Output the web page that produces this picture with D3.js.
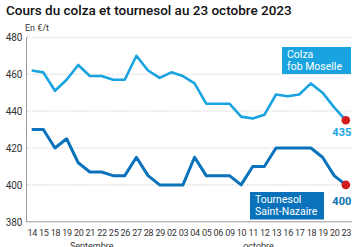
<!DOCTYPE html>
<html>
<head>
<meta charset="utf-8">
<script src="https://cdn.jsdelivr.net/npm/d3@7"></script>
<style>
  body { margin: 0; background: #fff; }
  svg { display: block; font-family: Roboto, "Noto Sans", sans-serif; }
</style>
</head>
<body>
<div id="chart"></div>
<script>
// dates (jour) – septembre puis octobre
const days = ["14","15","18","19","20","21","22","25","26","27","28","29",
  "02","03","04","05","06","09","10","11","12","13","16","17","18","19","20","23"];
const colza = [462,461,451,457,465,459,459,457,457,470,462,458,
  461,459,455,444,444,444,437,436,438,449,448,449,455,450,442,435];
const tournesol = [430,430,420,425,412,407,407,405,405,415,405,400,
  400,400,415,405,405,405,400,410,410,420,420,420,420,415,405,400];
const yTicks = [380,400,420,440,460,480];
const months = [{ label: "Septembre", from: 0, to: 11, shift: -4 }, { label: "octobre", from: 12, to: 27, shift: 0 }];

const W = 358, H = 247;
const colzaColor = "#19a3e0", tournColor = "#0a72ba", dotColor = "#d01c1f";

const svg = d3.select("#chart").append("svg").attr("width", W).attr("height", H);

const x = d3.scalePoint().domain(d3.range(days.length)).range([31.7, 345.8]);
const y = d3.scaleLinear().domain([380, 480]).range([221.8, 37.3]);

svg.append("text")
  .attr("x", 6).attr("y", 15)
  .attr("font-size", 13.5).attr("font-weight", 500).attr("fill", "#111")
  .text("Cours du colza et tournesol au 23 octobre 2023");

svg.append("text")
  .attr("x", 25).attr("y", 31)
  .attr("font-size", 9).attr("fill", "#333")
  .text("En €/t");

// grid
svg.append("g").selectAll("line")
  .data(yTicks.filter(d => d > 380))
  .join("line")
  .attr("x1", 27).attr("x2", 352)
  .attr("y1", d => y(d)).attr("y2", d => y(d))
  .attr("stroke", "#b5b5b5").attr("stroke-width", 0.8)
  .attr("stroke-dasharray", "1,1.5");

// axes
const yAxis = svg.append("g").attr("transform", "translate(26.5,0)")
  .call(d3.axisLeft(y).tickValues(yTicks).tickSize(0).tickPadding(4));
yAxis.select(".domain").attr("stroke", "#999").attr("d", `M0,${y(480)}V${y(380)}`);
yAxis.selectAll("text").attr("font-size", 10).attr("fill", "#333").attr("font-family", "Roboto");

const xAxis = svg.append("g").attr("transform", `translate(0,${y(380)})`)
  .call(d3.axisBottom(x).tickFormat(i => days[i]).tickSize(0).tickPadding(8));
xAxis.select(".domain").attr("stroke", "#999").attr("d", "M26,0H352");
xAxis.selectAll("text").attr("font-size", 9).attr("fill", "#333")
  .attr("font-family", "Roboto").attr("letter-spacing", -0.3);

svg.append("g").selectAll("text")
  .data(months).join("text")
  .attr("x", d => (x(d.from) + x(d.to)) / 2 + d.shift)
  .attr("y", 248.5)
  .attr("text-anchor", "middle")
  .attr("font-size", 9).attr("fill", "#333")
  .text(d => d.label);

const line = d3.line().x((d, i) => x(i)).y(d => y(d));

svg.append("path").datum(colza)
  .attr("fill", "none").attr("stroke", colzaColor).attr("stroke-width", 2.6)
  .attr("stroke-linejoin", "round").attr("d", line);
svg.append("path").datum(tournesol)
  .attr("fill", "none").attr("stroke", tournColor).attr("stroke-width", 3)
  .attr("stroke-linejoin", "round").attr("d", line);

const last = days.length - 1;
[colza, tournesol].forEach(s => {
  svg.append("circle").attr("cx", x(last)).attr("cy", y(s[last]))
    .attr("r", 4.3).attr("fill", dotColor);
});

svg.append("text").attr("x", x(last) - 4).attr("y", y(colza[last]) + 16)
  .attr("text-anchor", "middle").attr("font-size", 11).attr("font-weight", 700)
  .attr("fill", colzaColor).text(colza[last]);
svg.append("text").attr("x", x(last) - 4).attr("y", y(tournesol[last]) + 20)
  .attr("text-anchor", "middle").attr("font-size", 11).attr("font-weight", 700)
  .attr("fill", tournColor).text(tournesol[last]);

// series labels
function labelBox(x0, y0, w, h, fill, lines) {
  svg.append("rect").attr("x", x0).attr("y", y0).attr("width", w).attr("height", h).attr("fill", fill);
  svg.append("text").attr("x", x0 + 5).attr("y", y0 + 11)
    .attr("font-size", 10.5).attr("fill", "#fff")
    .selectAll("tspan").data(lines).join("tspan")
    .attr("x", x0 + 5).attr("dy", (d, i) => i ? 11.5 : 0).text(d => d);
}
labelBox(282, 47, 69, 27, colzaColor, ["Colza", "fob Moselle"]);
labelBox(250, 192, 74, 27.5, tournColor, ["Tournesol", "Saint-Nazaire"]);
</script>
</body>
</html>
